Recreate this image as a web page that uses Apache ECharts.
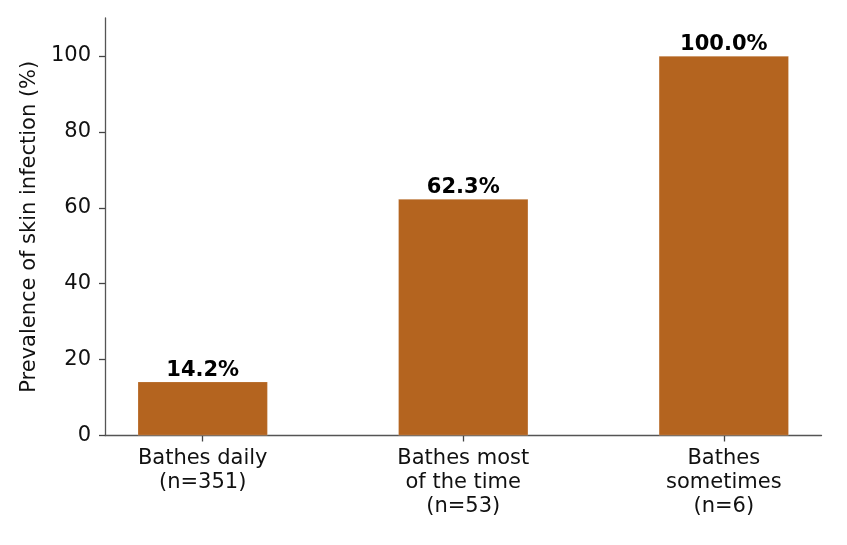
<!DOCTYPE html>
<html>
<head>
<meta charset="utf-8">
<script src="https://cdn.jsdelivr.net/npm/echarts@6/dist/echarts.min.js"></script>
<style>
html,body{margin:0;padding:0;background:#fff;}
#chart{width:847px;height:545px;}
</style>
</head>
<body>
<div id="chart"></div>
<script>
const categories = ['Bathes daily\n(n=351)', 'Bathes most\nof the time\n(n=53)', 'Bathes\nsometimes\n(n=6)'];
const prevalence = [14.2, 62.3, 100.0];
const yTicks = [0, 20, 40, 60, 80, 100];
const yTitle = 'Prevalence of skin infection (%)';

const positions = categories.map((c, i) => i);
const FONT = 'DejaVu Sans';
const chart = echarts.init(document.getElementById('chart'), null, {renderer: 'canvas'});
chart.setOption({
  animation: false,
  backgroundColor: '#ffffff',
  grid: {left: 105, right: 25.5, top: 18, bottom: 109.5, containLabel: false},
  xAxis: {
    type: 'value',
    min: -0.375,
    max: positions.length - 1 + 0.375,
    axisLine: {show: true, onZero: false, lineStyle: {color: '#555', width: 1.3}},
    axisTick: {show: true, length: 6, lineStyle: {color: '#444', width: 1.3}, customValues: positions},
    axisLabel: {
      customValues: positions,
      formatter: v => categories[Math.round(v)] || '',
      fontFamily: FONT, fontSize: 21, color: '#111', margin: 11, lineHeight: 24
    },
    splitLine: {show: false}
  },
  yAxis: {
    type: 'value',
    min: 0,
    max: 110,
    name: yTitle,
    nameLocation: 'middle',
    nameGap: 60,
    nameTextStyle: {fontFamily: FONT, fontSize: 21, color: '#111'},
    axisLine: {show: true, onZero: false, lineStyle: {color: '#555', width: 1.3}},
    axisTick: {show: true, length: 6, lineStyle: {color: '#444', width: 1.3}, customValues: yTicks},
    axisLabel: {customValues: yTicks, fontFamily: FONT, fontSize: 21, color: '#111', margin: 14},
    splitLine: {show: false}
  },
  series: [{
    type: 'bar',
    data: positions.map((p, i) => [p, prevalence[i]]),
    barWidth: 130,
    itemStyle: {color: '#b4641f', borderColor: 'rgba(255,255,255,0.35)', borderWidth: 0.6},
    label: {
      show: true, position: 'top', distance: 1,
      formatter: p => p.value[1].toFixed(1) + '%',
      fontFamily: FONT, fontSize: 21, fontWeight: 'bold', color: '#000'
    }
  }]
});
</script>
</body>
</html>
